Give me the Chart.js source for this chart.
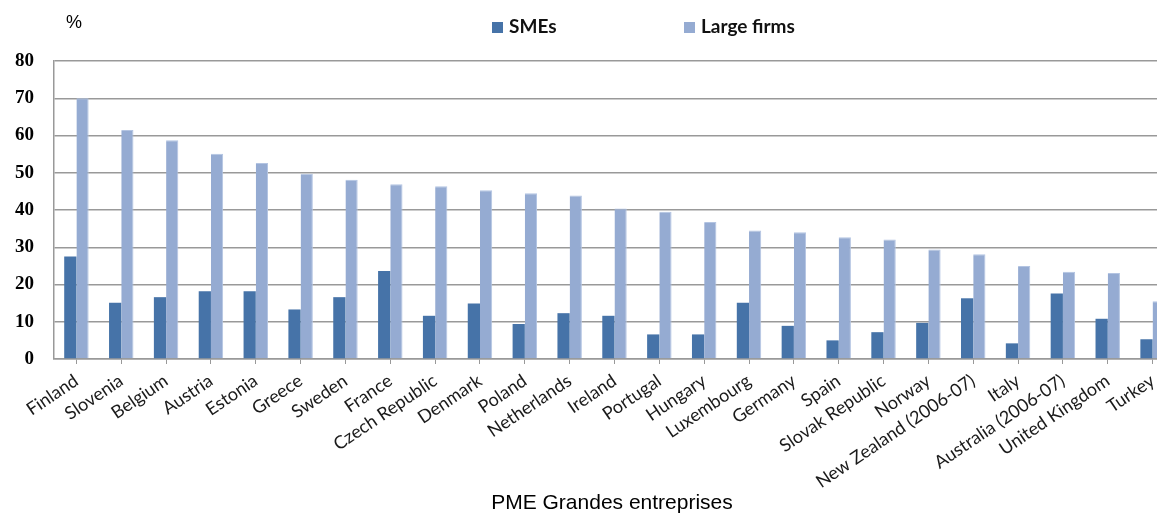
<!DOCTYPE html>
<html>
<head>
<meta charset="utf-8">
<script src="https://cdn.jsdelivr.net/npm/chart.js@4.4.1/dist/chart.umd.min.js"></script>
<style>
  html, body { margin: 0; padding: 0; background: #fff; overflow: hidden; }
  #wrap { position: relative; width: 1175px; height: 513px; }
</style>
</head>
<body>
<div id="wrap"><canvas id="chart"></canvas></div>
<script>
// Share of firms (%) by country, SMEs vs large firms
const countries = [
  'Finland', 'Slovenia', 'Belgium', 'Austria', 'Estonia', 'Greece', 'Sweden',
  'France', 'Czech Republic', 'Denmark', 'Poland', 'Netherlands', 'Ireland',
  'Portugal', 'Hungary', 'Luxembourg', 'Germany', 'Spain', 'Slovak Republic',
  'Norway', 'New Zealand (2006-07)', 'Italy', 'Australia (2006-07)',
  'United Kingdom', 'Turkey'
];
const smes = [27.5, 15.1, 16.6, 18.2, 18.2, 13.3, 16.6, 23.6, 11.6, 14.9, 9.4, 12.3, 11.6,
  6.6, 6.6, 15.1, 8.9, 5.0, 7.2, 9.7, 16.3, 4.2, 17.6, 10.8, 5.3];
const largeFirms = [70.0, 61.5, 58.7, 55.1, 52.6, 49.7, 48.1, 46.9, 46.4, 45.3, 44.5, 43.9, 40.4,
  39.5, 36.8, 34.5, 34.0, 32.7, 32.1, 29.4, 28.1, 25.0, 23.4, 23.1, 15.5];
const yTicks = [0, 10, 20, 30, 40, 50, 60, 70, 80];
const seriesNames = ['SMEs', 'Large firms'];
const unitLabel = '%';
const footerText = 'PME Grandes entreprises';

const SME_COLOR = '#4673a8';
const LARGE_COLOR = '#95abd2';
const GRID = '#999999';

// legend, unit and footer text drawn on top of the chart
const decorations = {
  id: 'decorations',
  afterDraw(chart) {
    const ctx = chart.ctx;
    ctx.save();
    ctx.fillStyle = '#000';
    ctx.textBaseline = 'middle';
    ctx.font = '18px "Liberation Sans", Arial, sans-serif';
    ctx.textAlign = 'left';
    ctx.fillText(unitLabel, 66, 23);

    const items = [
      { x: 492, color: SME_COLOR, text: seriesNames[0] },
      { x: 684, color: LARGE_COLOR, text: seriesNames[1] }
    ];
    ctx.font = 'bold 19px Lato, sans-serif';
    items.forEach(it => {
      ctx.fillStyle = it.color;
      ctx.fillRect(it.x, 22, 11, 11);
      ctx.fillStyle = '#111';
      ctx.fillText(it.text, it.x + 17, 27);
    });

    ctx.font = '21px "Liberation Sans", Arial, sans-serif';
    ctx.textAlign = 'center';
    ctx.textBaseline = 'alphabetic';
    ctx.fillStyle = '#000';
    ctx.fillText(footerText, 612, 509);
    ctx.restore();
  }
};

new Chart(document.getElementById('chart'), {
  type: 'bar',
  data: {
    labels: countries,
    datasets: [
      { label: seriesNames[0], data: smes, backgroundColor: SME_COLOR },
      { label: seriesNames[1], data: largeFirms, backgroundColor: LARGE_COLOR,
        borderColor: '#b3c4e2', borderWidth: { top: 1, left: 0, right: 1, bottom: 0 } }
    ]
  },
  options: {
    responsive: true,
    maintainAspectRatio: false,
    animation: false,
    layout: { padding: { top: 61, left: 0, right: 0, bottom: 0 } },
    datasets: {
      bar: { categoryPercentage: 0.545, barPercentage: 1.0 }
    },
    plugins: {
      legend: { display: false },
      tooltip: { enabled: false }
    },
    scales: {
      x: {
        grid: { display: true, drawOnChartArea: false, drawTicks: true, tickLength: 5,
                offset: false, color: GRID },
        border: { display: true, color: GRID, width: 1.5 },
        ticks: {
          color: '#1a1a1a',
          font: { family: 'Lato, sans-serif', size: 18 },
          minRotation: 34,
          maxRotation: 34,
          autoSkip: false,
          padding: 6
        },
        afterFit(scale) { scale.height = 154; }
      },
      y: {
        min: 0,
        max: 80,
        afterBuildTicks(scale) { scale.ticks = yTicks.map(v => ({ value: v })); },
        grid: { color: GRID, lineWidth: 1.5, drawTicks: false },
        border: { display: true, color: GRID, width: 1.5 },
        ticks: {
          color: '#000',
          padding: 20,
          font: { family: '"Liberation Serif", "Times New Roman", serif', size: 19, weight: 'bold' }
        },
        afterFit(scale) { scale.width = 54; }
      }
    }
  },
  plugins: [decorations]
});
</script>
</body>
</html>
